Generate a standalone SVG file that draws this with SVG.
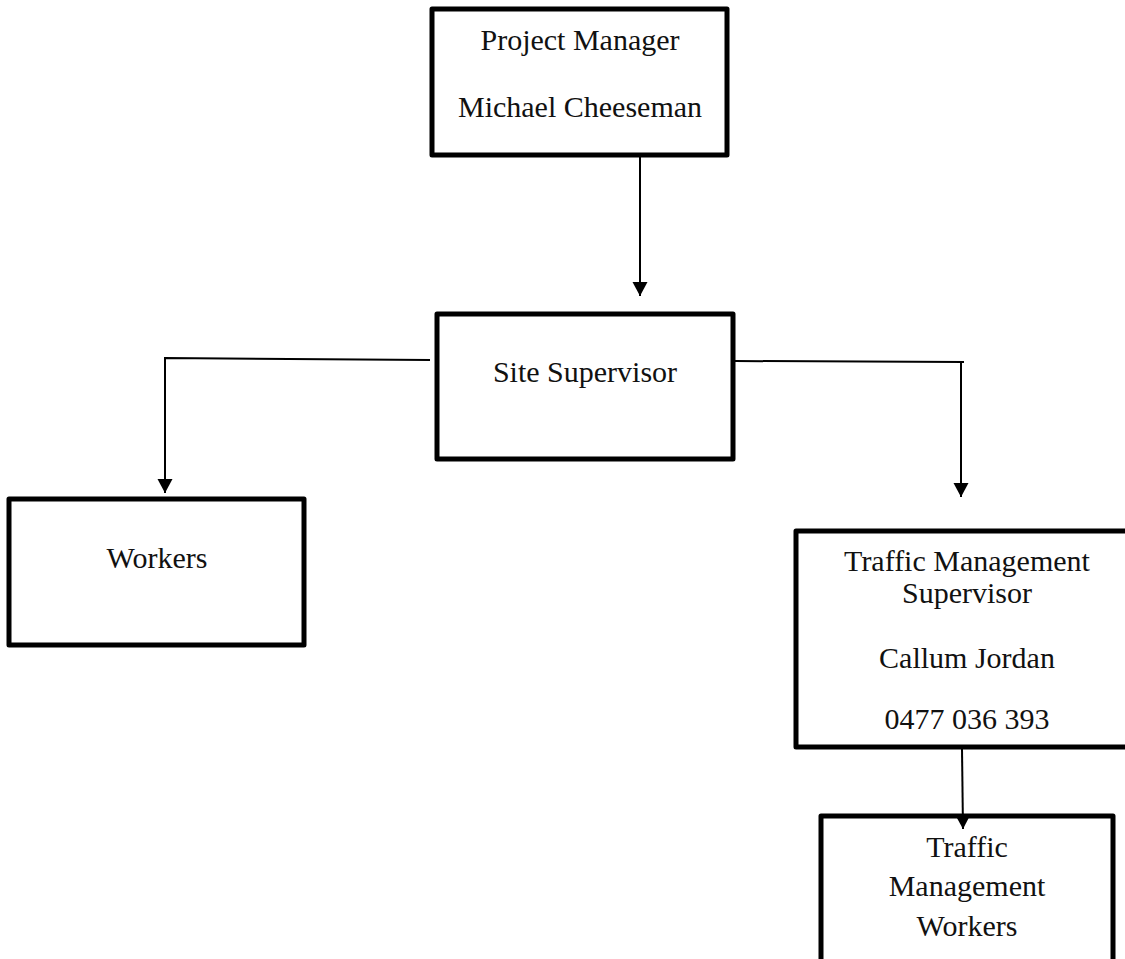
<svg xmlns="http://www.w3.org/2000/svg" width="1125" height="959" viewBox="0 0 1125 959">
<style>
.box{fill:#fff;stroke:#000;stroke-width:5;stroke-linejoin:round}
.t{font-family:"Liberation Serif","DejaVu Serif",serif;font-size:30px;fill:#111;text-anchor:middle}
.c{fill:none;stroke:#000;stroke-width:2}
</style>
<defs>
<marker id="ah" markerUnits="userSpaceOnUse" markerWidth="16" markerHeight="16" refX="14" refY="8" orient="auto">
<path d="M0,0.5 L14,8 L0,15.5 Z" fill="#000"/>
</marker>
</defs>
<rect width="1125" height="959" fill="#fff"/>
<g id="pm">
<rect class="box" x="432" y="9" width="295" height="146"/>
<text class="t" x="580" y="50">Project Manager</text>
<text class="t" x="580" y="117">Michael Cheeseman</text>
</g>
<g id="ss">
<rect class="box" x="437" y="314" width="296" height="145"/>
<text class="t" x="585" y="382">Site Supervisor</text>
</g>
<g id="workers">
<rect class="box" x="9" y="499" width="295" height="146"/>
<text class="t" x="157" y="568">Workers</text>
</g>
<g id="tms">
<rect class="box" x="796" y="531" width="340" height="216"/>
<text class="t" x="967" y="571">Traffic Management</text>
<text class="t" x="967" y="603">Supervisor</text>
<text class="t" x="967" y="668">Callum Jordan</text>
<text class="t" x="967" y="729">0477 036 393</text>
</g>
<g id="tmw">
<rect class="box" x="821" y="816" width="292" height="160"/>
<text class="t" x="967" y="857">Traffic</text>
<text class="t" x="967" y="896">Management</text>
<text class="t" x="967" y="936">Workers</text>
</g>
<g id="connectors">
<path class="c" d="M640,157 L640,296" marker-end="url(#ah)"/>
<path class="c" d="M430,360 L165,358 L165,493" marker-end="url(#ah)"/>
<path class="c" d="M735,361 L964,362 M961,361 L961,497" marker-end="url(#ah)"/>
<path class="c" d="M962,749 L963,829" marker-end="url(#ah)"/>
</g>
</svg>
